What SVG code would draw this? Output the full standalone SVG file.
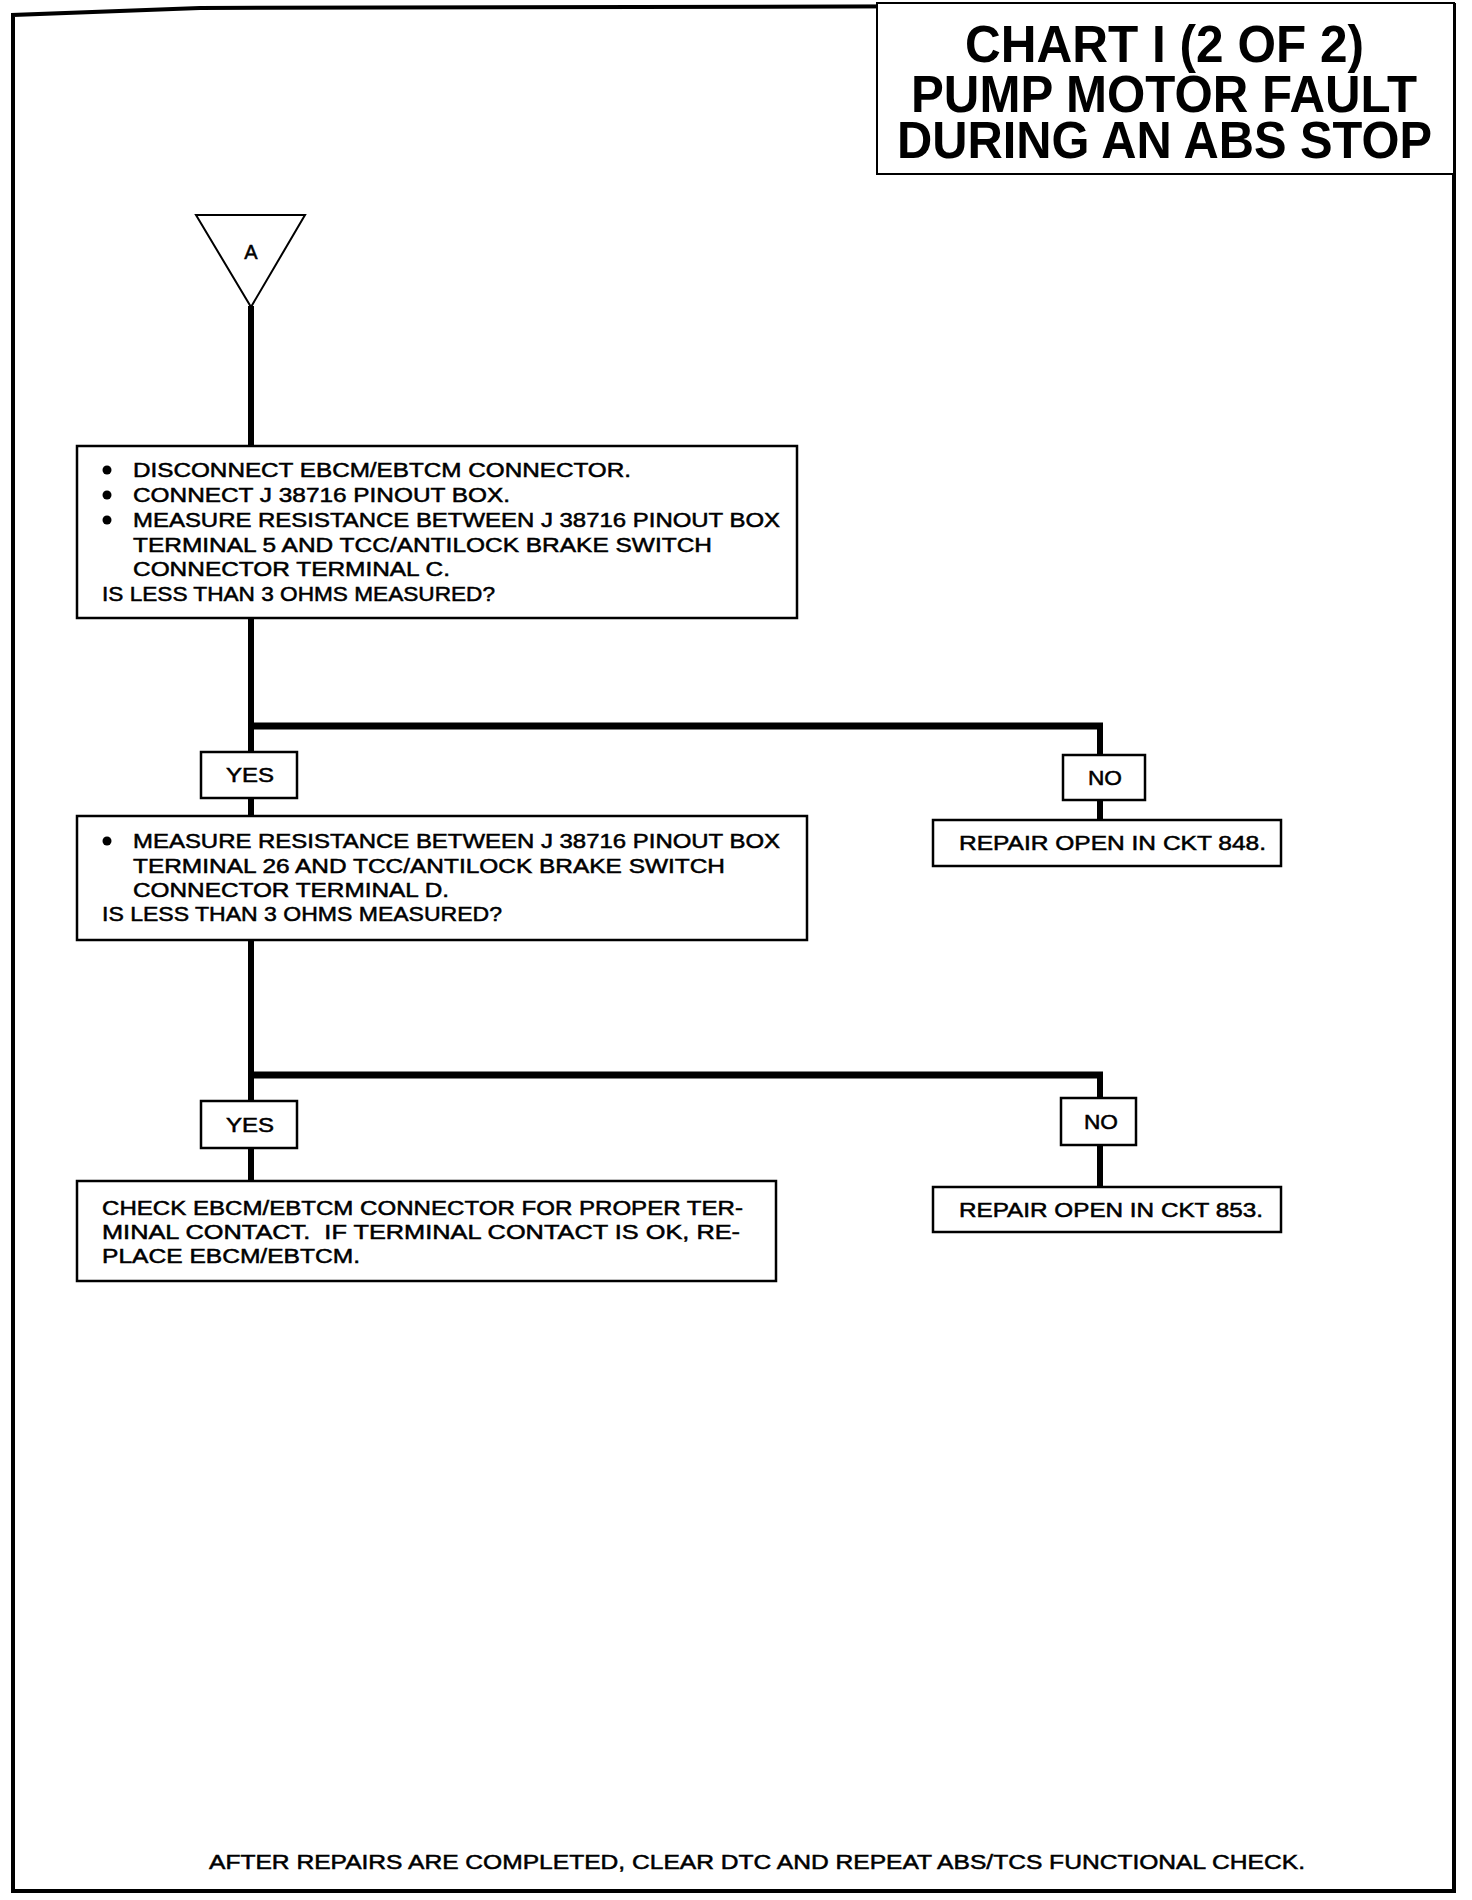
<svg xmlns="http://www.w3.org/2000/svg" width="1472" height="1900" viewBox="0 0 1472 1900">
<style>
.box{fill:#fff;stroke:#000;stroke-width:2.5}
.t{font-family:"Liberation Sans",Arial,sans-serif;font-size:20px;fill:#000;stroke:#000;stroke-width:0.5}
.ttl{font-family:"Liberation Sans",Arial,sans-serif;font-size:52px;font-weight:bold;fill:#000}
.wire{stroke:#000;stroke-width:6;fill:none}
.br{stroke:#000;stroke-width:7;fill:none}
</style>
<rect x="0" y="0" width="1472" height="1900" fill="#fff"/>
<g id="page-border">
<path d="M13,1891 L13,15 L200,8 L1454,5 L1454,1891 Z" fill="none" stroke="#000" stroke-width="4"/>
</g>
<g id="title">
<rect x="877" y="3" width="577" height="171" fill="#fff" stroke="#000" stroke-width="2"/>
<text class="ttl" x="965" y="62" textLength="399" lengthAdjust="spacingAndGlyphs">CHART I (2 OF 2)</text>
<text class="ttl" x="911" y="112" textLength="506" lengthAdjust="spacingAndGlyphs">PUMP MOTOR FAULT</text>
<text class="ttl" x="897" y="158" textLength="535" lengthAdjust="spacingAndGlyphs">DURING AN ABS STOP</text>
</g>
<g id="connectors">
<line class="wire" x1="251" y1="306" x2="251" y2="446"/>
<line class="wire" x1="251" y1="618" x2="251" y2="752"/>
<line class="br" x1="248" y1="726" x2="1103" y2="726"/>
<line class="wire" x1="1100" y1="723" x2="1100" y2="755"/>
<line class="wire" x1="1100" y1="800" x2="1100" y2="820"/>
<line class="wire" x1="251" y1="798" x2="251" y2="816"/>
<line class="wire" x1="251" y1="940" x2="251" y2="1101"/>
<line class="br" x1="248" y1="1075" x2="1103" y2="1075"/>
<line class="wire" x1="1100" y1="1072" x2="1100" y2="1098"/>
<line class="wire" x1="1100" y1="1145" x2="1100" y2="1187"/>
<line class="wire" x1="251" y1="1148" x2="251" y2="1181"/>
</g>
<g id="start-A">
<polygon points="196,215 305,215 251,307" fill="#fff" stroke="#000" stroke-width="2"/>
<text class="t" x="251" y="259" text-anchor="middle">A</text>
</g>
<g id="box1">
<rect class="box" x="77" y="446" width="720" height="172"/>
<circle cx="107" cy="470" r="4.5"/>
<circle cx="107" cy="495" r="4.5"/>
<circle cx="107" cy="520" r="4.5"/>
<text class="t" x="133" y="477" textLength="498" lengthAdjust="spacingAndGlyphs">DISCONNECT EBCM/EBTCM CONNECTOR.</text>
<text class="t" x="133" y="502" textLength="377" lengthAdjust="spacingAndGlyphs">CONNECT J 38716 PINOUT BOX.</text>
<text class="t" x="133" y="527" textLength="647" lengthAdjust="spacingAndGlyphs">MEASURE RESISTANCE BETWEEN J 38716 PINOUT BOX</text>
<text class="t" x="133" y="552" textLength="579" lengthAdjust="spacingAndGlyphs">TERMINAL 5 AND TCC/ANTILOCK BRAKE SWITCH</text>
<text class="t" x="133" y="576" textLength="317" lengthAdjust="spacingAndGlyphs">CONNECTOR TERMINAL C.</text>
<text class="t" x="102" y="601" textLength="393" lengthAdjust="spacingAndGlyphs">IS LESS THAN 3 OHMS MEASURED?</text>
</g>
<g id="yes1">
<rect class="box" x="201" y="752" width="96" height="46"/>
<text class="t" x="250" y="782" text-anchor="middle" textLength="48" lengthAdjust="spacingAndGlyphs">YES</text>
</g>
<g id="no1">
<rect class="box" x="1063" y="755" width="82" height="45"/>
<text class="t" x="1105" y="785" text-anchor="middle" textLength="34" lengthAdjust="spacingAndGlyphs">NO</text>
</g>
<g id="repair848">
<rect class="box" x="933" y="820" width="348" height="46"/>
<text class="t" x="959" y="850" textLength="307" lengthAdjust="spacingAndGlyphs">REPAIR OPEN IN CKT 848.</text>
</g>
<g id="box2">
<rect class="box" x="77" y="816" width="730" height="124"/>
<circle cx="107" cy="841" r="4.5"/>
<text class="t" x="133" y="848" textLength="647" lengthAdjust="spacingAndGlyphs">MEASURE RESISTANCE BETWEEN J 38716 PINOUT BOX</text>
<text class="t" x="133" y="873" textLength="592" lengthAdjust="spacingAndGlyphs">TERMINAL 26 AND TCC/ANTILOCK BRAKE SWITCH</text>
<text class="t" x="133" y="897" textLength="316" lengthAdjust="spacingAndGlyphs">CONNECTOR TERMINAL D.</text>
<text class="t" x="102" y="921" textLength="400" lengthAdjust="spacingAndGlyphs">IS LESS THAN 3 OHMS MEASURED?</text>
</g>
<g id="yes2">
<rect class="box" x="201" y="1101" width="96" height="47"/>
<text class="t" x="250" y="1132" text-anchor="middle" textLength="48" lengthAdjust="spacingAndGlyphs">YES</text>
</g>
<g id="no2">
<rect class="box" x="1061" y="1098" width="75" height="47"/>
<text class="t" x="1101" y="1129" text-anchor="middle" textLength="34" lengthAdjust="spacingAndGlyphs">NO</text>
</g>
<g id="box3">
<rect class="box" x="77" y="1181" width="699" height="100"/>
<text class="t" x="102" y="1215" textLength="641" lengthAdjust="spacingAndGlyphs">CHECK EBCM/EBTCM CONNECTOR FOR PROPER TER-</text>
<text class="t" x="102" y="1239" textLength="638" lengthAdjust="spacingAndGlyphs" xml:space="preserve">MINAL CONTACT.  IF TERMINAL CONTACT IS OK, RE-</text>
<text class="t" x="102" y="1263" textLength="258" lengthAdjust="spacingAndGlyphs">PLACE EBCM/EBTCM.</text>
</g>
<g id="repair853">
<rect class="box" x="933" y="1187" width="348" height="45"/>
<text class="t" x="959" y="1217" textLength="304" lengthAdjust="spacingAndGlyphs">REPAIR OPEN IN CKT 853.</text>
</g>
<g id="footer">
<text class="t" x="209" y="1869" textLength="1096" lengthAdjust="spacingAndGlyphs">AFTER REPAIRS ARE COMPLETED, CLEAR DTC AND REPEAT ABS/TCS FUNCTIONAL CHECK.</text>
</g>
</svg>
